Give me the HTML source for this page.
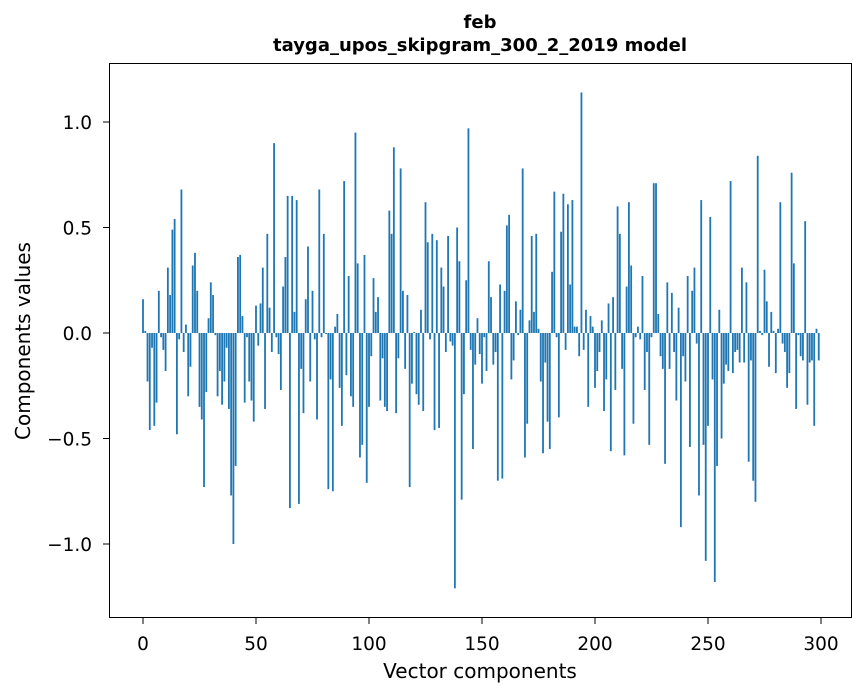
<!DOCTYPE html>
<html><head><meta charset="utf-8"><style>
body{margin:0;background:#fff;}
svg{display:block;font-family:"DejaVu Sans","Liberation Sans",sans-serif;}
</style></head><body>
<svg id="chart" width="867" height="696" viewBox="0 0 867 696" xmlns="http://www.w3.org/2000/svg">
<rect x="0" y="0" width="867" height="696" fill="#fff"/>
<text x="480" y="28" text-anchor="middle" font-size="18" font-weight="bold">feb</text>
<text x="480" y="51" text-anchor="middle" font-size="18" font-weight="bold">tayga_upos_skipgram_300_2_2019 model</text>
<g id="bars"></g>
<g id="xticks"></g>
<g id="yticks"></g>
<rect x="109.5" y="63.5" width="742" height="554" fill="none" stroke="#000" stroke-width="1"/>
<text x="480" y="678" text-anchor="middle" font-size="20">Vector components</text>
<text transform="translate(30,341) rotate(-90)" text-anchor="middle" font-size="20">Components values</text>
</svg>
<script>
const values = [.16,.01,-.23,-.46,-.07,-.44,-.33,.20,-.02,-.08,-.18,.31,.18,.49,.54,-.48,-.03,.68,-.09,.04,-.30,-.16,.32,.38,.20,-.35,-.41,-.73,-.28,.07,.24,.18,-.01,-.30,-.18,-.34,-.23,-.07,-.36,-.77,-1.00,-.63,.36,.37,.08,-.33,-.02,-.23,-.32,-.42,.13,
-.06,.14,.31,-.36,.47,.12,-.09,.90,-.02,-.10,-.27,.22,.36,.65,-.83,.65,.10,.63,-.81,-.17,-.38,.16,.41,-.23,.20,-.03,-.41,.68,-.02,.47,-.005,-.74,-.22,-.75,.03,.09,-.26,-.44,.72,-.20,.27,-.30,-.35,.95,.33,-.59,-.53,.37,-.71,-.35,
-.11,.26,.10,.17,-.32,-.12,-.35,-.37,.58,.47,.88,-.38,-.12,.78,.20,-.17,.18,-.73,-.24,.005,-.29,-.34,.11,-.37,.62,.43,-.03,.47,-.46,.44,-.45,.31,.22,-.09,.46,-.04,-.06,-1.21,.50,.34,-.79,-.29,.25,.97,-.08,-.55,-.15,.07,-.10,-.24,
-.02,-.18,.34,.17,-.15,-.09,-.70,.23,-.69,.20,.51,.56,-.22,-.13,.15,-.01,.11,.78,-.59,-.43,.06,.46,.10,.47,.02,-.23,-.57,-.14,-.42,-.55,.29,.67,-.02,-.40,.48,.66,-.08,.61,.23,.63,.03,.03,-.11,1.14,-.08,.11,-.35,.08,.03,-.26,
-.18,-.09,.06,-.37,-.22,.14,-.56,.17,-.27,.60,.47,-.17,-.58,.22,.62,.32,-.43,-.02,.03,-.03,.27,-.27,-.09,-.53,-.02,.71,.71,.09,-.11,-.17,-.62,.24,-.17,.19,-.09,-.32,.12,-.92,-.11,-.23,.27,-.54,.20,.31,-.05,-.77,.63,-.53,-1.08,-.44,
.55,-.22,-1.18,-.63,.11,-.50,-.24,-.15,-.18,.72,-.19,-.09,-.08,-.14,.31,-.14,.24,-.61,-.13,-.70,-.80,.84,.01,-.01,.30,.15,-.16,.10,.01,-.19,.02,.62,-.05,-.09,-.26,-.19,.76,.33,-.36,-.01,-.11,-.13,.53,-.34,-.14,-.13,-.44,.02,-.13];
const xTicks = [0,50,100,150,200,250,300];
const yTicks = [-1.0,-0.5,0.0,0.5,1.0];
const xScale = v => 143 + 2.26*v;
const yScale = v => 333 - 211*v;
const NS = "http://www.w3.org/2000/svg";
const bars = document.getElementById('bars');
values.forEach((v,i)=>{
  const r = document.createElementNS(NS,'rect');
  const y0 = yScale(0), y1 = yScale(v);
  r.setAttribute('x', xScale(i-0.4));
  r.setAttribute('width', 2.26*0.8);
  r.setAttribute('y', Math.min(y0,y1));
  r.setAttribute('height', Math.max(Math.abs(y1-y0),0.3));
  r.setAttribute('fill','#1f77b4');
  
  
  bars.appendChild(r);
});
const xg = document.getElementById('xticks');
xTicks.forEach(t=>{
  const x = xScale(t);
  const l = document.createElementNS(NS,'line');
  l.setAttribute('x1',x);l.setAttribute('x2',x);l.setAttribute('y1',618);l.setAttribute('y2',624);
  l.setAttribute('stroke','#000');
  
  
  xg.appendChild(l);
  const tx = document.createElementNS(NS,'text');
  tx.setAttribute('x',x);tx.setAttribute('y',650);tx.setAttribute('text-anchor','middle');tx.setAttribute('font-size','18.5');
  tx.textContent = t;
  
  
  xg.appendChild(tx);
});
const yg = document.getElementById('yticks');
yTicks.forEach(t=>{
  const y = yScale(t);
  const l = document.createElementNS(NS,'line');
  l.setAttribute('x1',103);l.setAttribute('x2',109);l.setAttribute('y1',y);l.setAttribute('y2',y);
  l.setAttribute('stroke','#000');
  
  
  yg.appendChild(l);
  const tx = document.createElementNS(NS,'text');
  tx.setAttribute('x',92);tx.setAttribute('y',y+7);tx.setAttribute('text-anchor','end');tx.setAttribute('font-size','18.5');
  tx.textContent = (t<0?'\u2212':'') + Math.abs(t).toFixed(1);
  
  
  yg.appendChild(tx);
});
</script>
</body></html>
